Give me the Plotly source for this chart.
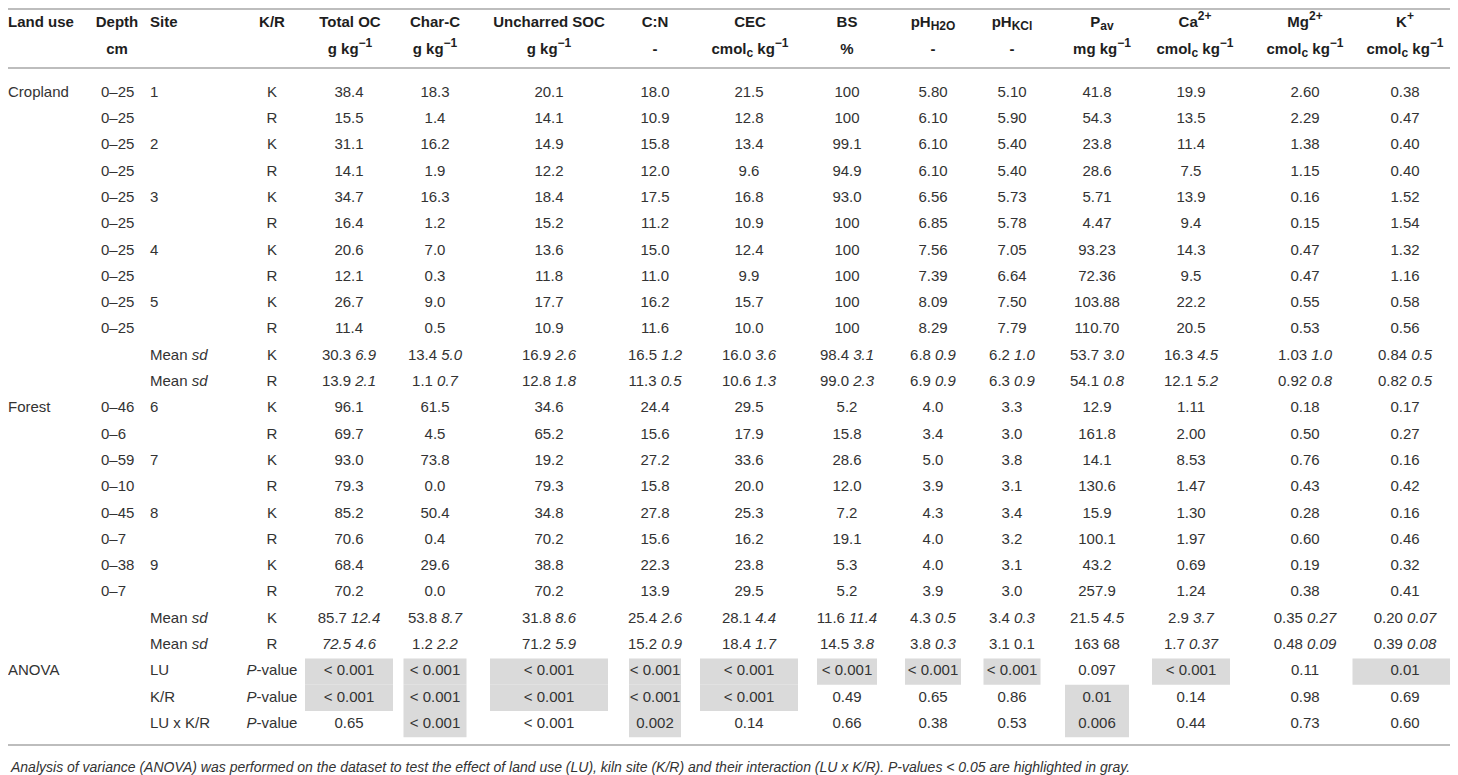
import plotly.graph_objects as go

# ---- row labels ----
land_use = ["Cropland"] + [""] * 11 + ["Forest"] + [""] * 9 + ["ANOVA", "", ""]
depth = (["0–25"] * 10 + ["", ""]
         + ["0–46", "0–6", "0–59", "0–10", "0–45", "0–7", "0–38", "0–7"]
         + ["", ""] + ["", "", ""])
site = ["1", "", "2", "", "3", "", "4", "", "5", "", "Mean <i>sd</i>", "Mean <i>sd</i>",
        "6", "", "7", "", "8", "", "9", "", "Mean <i>sd</i>", "Mean <i>sd</i>",
        "LU", "K/R", "LU x K/R"]
kiln = ["K", "R"] * 11 + ["<i>P</i>-value"] * 3

# ---- header ----
SUB = "<sub><span style='font-size:12px'>{}</span></sub>"
SUP = "<sup><span style='font-size:12px'>{}</span></sup>"
KG = "kg" + SUP.format("−1")
CMOL = "cmol" + SUB.format("c") + " " + KG
headers = ["Land use", "Depth", "Site", "K/R", "Total OC", "Char-C", "Uncharred SOC", "C:N",
           "CEC", "BS", "pH" + SUB.format("H2O"), "pH" + SUB.format("KCl"), "P" + SUB.format("av"),
           "Ca" + SUP.format("2+"), "Mg" + SUP.format("2+"), "K" + SUP.format("+")]
units = ["", "cm", "", "", "g " + KG, "g " + KG, "g " + KG, "-",
         CMOL, "%", "-", "-", "mg " + KG, CMOL, CMOL, CMOL]

# ---- samples: 10 cropland rows then 8 forest rows ----
total_oc = ["38.4", "15.5", "31.1", "14.1", "34.7", "16.4", "20.6", "12.1", "26.7", "11.4",
            "96.1", "69.7", "93.0", "79.3", "85.2", "70.6", "68.4", "70.2"]
char_c = ["18.3", "1.4", "16.2", "1.9", "16.3", "1.2", "7.0", "0.3", "9.0", "0.5",
          "61.5", "4.5", "73.8", "0.0", "50.4", "0.4", "29.6", "0.0"]
uncharred_soc = ["20.1", "14.1", "14.9", "12.2", "18.4", "15.2", "13.6", "11.8", "17.7", "10.9",
                 "34.6", "65.2", "19.2", "79.3", "34.8", "70.2", "38.8", "70.2"]
c_n = ["18.0", "10.9", "15.8", "12.0", "17.5", "11.2", "15.0", "11.0", "16.2", "11.6",
       "24.4", "15.6", "27.2", "15.8", "27.8", "15.6", "22.3", "13.9"]
cec = ["21.5", "12.8", "13.4", "9.6", "16.8", "10.9", "12.4", "9.9", "15.7", "10.0",
       "29.5", "17.9", "33.6", "20.0", "25.3", "16.2", "23.8", "29.5"]
bs = ["100", "100", "99.1", "94.9", "93.0", "100", "100", "100", "100", "100",
      "5.2", "15.8", "28.6", "12.0", "7.2", "19.1", "5.3", "5.2"]
ph_h2o = ["5.80", "6.10", "6.10", "6.10", "6.56", "6.85", "7.56", "7.39", "8.09", "8.29",
          "4.0", "3.4", "5.0", "3.9", "4.3", "4.0", "4.0", "3.9"]
ph_kcl = ["5.10", "5.90", "5.40", "5.40", "5.73", "5.78", "7.05", "6.64", "7.50", "7.79",
          "3.3", "3.0", "3.8", "3.1", "3.4", "3.2", "3.1", "3.0"]
p_av = ["41.8", "54.3", "23.8", "28.6", "5.71", "4.47", "93.23", "72.36", "103.88", "110.70",
        "12.9", "161.8", "14.1", "130.6", "15.9", "100.1", "43.2", "257.9"]
ca = ["19.9", "13.5", "11.4", "7.5", "13.9", "9.4", "14.3", "9.5", "22.2", "20.5",
      "1.11", "2.00", "8.53", "1.47", "1.30", "1.97", "0.69", "1.24"]
mg = ["2.60", "2.29", "1.38", "1.15", "0.16", "0.15", "0.47", "0.47", "0.55", "0.53",
      "0.18", "0.50", "0.76", "0.43", "0.28", "0.60", "0.19", "0.38"]
k_plus = ["0.38", "0.47", "0.40", "0.40", "1.52", "1.54", "1.32", "1.16", "0.58", "0.56",
          "0.17", "0.27", "0.16", "0.42", "0.16", "0.46", "0.32", "0.41"]

# ---- means and sd per land use and kiln/reference ----
crop_k_mean = ["30.3", "13.4", "16.9", "16.5", "16.0", "98.4", "6.8", "6.2", "53.7", "16.3", "1.03", "0.84"]
crop_k_sd = ["6.9", "5.0", "2.6", "1.2", "3.6", "3.1", "0.9", "1.0", "3.0", "4.5", "1.0", "0.5"]
crop_r_mean = ["13.9", "1.1", "12.8", "11.3", "10.6", "99.0", "6.9", "6.3", "54.1", "12.1", "0.92", "0.82"]
crop_r_sd = ["2.1", "0.7", "1.8", "0.5", "1.3", "2.3", "0.9", "0.9", "0.8", "5.2", "0.8", "0.5"]
forest_k_mean = ["85.7", "53.8", "31.8", "25.4", "28.1", "11.6", "4.3", "3.4", "21.5", "2.9", "0.35", "0.20"]
forest_k_sd = ["12.4", "8.7", "8.6", "2.6", "4.4", "11.4", "0.5", "0.3", "4.5", "3.7", "0.27", "0.07"]
forest_r_mean = ["72.5", "1.2", "71.2", "15.2", "18.4", "14.5", "3.8", "3.1", "163", "1.7", "0.48", "0.39"]
forest_r_sd = ["4.6", "2.2", "5.9", "0.9", "1.7", "3.8", "0.3", "0.1", "68", "0.37", "0.09", "0.08"]

# ---- ANOVA p-values and which ones are shaded ----
p_lu = ["< 0.001"] * 8 + ["0.097", "< 0.001", "0.11", "0.01"]
p_kr = ["< 0.001"] * 5 + ["0.49", "0.65", "0.86", "0.01", "0.14", "0.98", "0.69"]
p_int = ["0.65", "< 0.001", "< 0.001", "0.002", "0.14", "0.66", "0.38", "0.53", "0.006", "0.44", "0.73", "0.60"]
shade_lu = [1, 1, 1, 1, 1, 1, 1, 1, 0, 1, 0, 1]
shade_kr = [1, 1, 1, 1, 1, 0, 0, 0, 1, 0, 0, 0]
shade_int = [0, 1, 0, 1, 0, 0, 0, 0, 1, 0, 0, 0]

# page is drawn with the browser's 8px body margin, so the axes are set up in
# window pixels: x from 8 to 1458, y from 8 to 775
PAGE_W, PAGE_H, BODY = 1458, 775, 8
FONT = "Liberation Sans"
TXT = "#333333"
HEAD = "#1e1e1e"
GRAY = "#dadada"
RULE = "#bdbdbd"

col_x = [8, 101, 150, 272, 349, 435, 549, 655, 749, 847, 933, 1012, 1097, 1191, 1305, 1405]
head_x = [8, 117, 150, 272, 350, 435, 549, 655, 750, 847, 933, 1012, 1102, 1195, 1305, 1405]
col_pos = ["middle right"] * 3 + ["middle center"] * 13
head_pos = ["middle right", "middle center", "middle right"] + ["middle center"] * 13
box_w = [88, 63, 118, 52, 98, 60, 56, 57, 64, 78, 92, 105]
ROW0, ROWH = 93, 26.3
HEAD_Y = [23, 50]


def mean_sd(m, s, it_m=False, it_s=True):
    m = "<i>" + m + "</i>" if it_m else m
    s = "<i>" + s + "</i>" if it_s else s
    return m + " " + s


# ---- assemble the body columns ----
sample_cols = [total_oc, char_c, uncharred_soc, c_n, cec, bs, ph_h2o, ph_kcl, p_av, ca, mg, k_plus]
columns = [land_use, depth, site, kiln]
for j, col in enumerate(sample_cols):
    cells = list(col[:10])
    cells.append(mean_sd(crop_k_mean[j], crop_k_sd[j]))
    cells.append(mean_sd(crop_r_mean[j], crop_r_sd[j]))
    cells += list(col[10:])
    cells.append(mean_sd(forest_k_mean[j], forest_k_sd[j]))
    cells.append(mean_sd(forest_r_mean[j], forest_r_sd[j], it_m=(j == 0), it_s=(j not in (7, 8))))
    cells += [p.replace("<", "&lt;") for p in (p_lu[j], p_kr[j], p_int[j])]
    columns.append(cells)

bx, by, bt, bp = [], [], [], []
for c, col in enumerate(columns):
    for r, txt in enumerate(col):
        if txt:
            bx.append(col_x[c])
            by.append(ROW0 + r * ROWH)
            bt.append(txt)
            bp.append(col_pos[c])

hx, hy, ht, hp = [], [], [], []
for c in range(len(headers)):
    for line, txt in enumerate((headers[c], units[c])):
        if txt:
            hx.append(head_x[c])
            hy.append(HEAD_Y[line])
            ht.append("<b>" + txt + "</b>")
            hp.append(head_pos[c])

# shaded p-value cells
sx, sb, sw = [], [], []
for j in range(len(sample_cols)):
    for k, flags in enumerate((shade_lu, shade_kr, shade_int)):
        if flags[j]:
            sx.append(col_x[4 + j])
            sb.append(ROW0 + (22 + k) * ROWH - ROWH / 2)
            sw.append(box_w[j])

fig = go.Figure()

fig.add_trace(go.Bar(
    x=sx, y=[ROWH] * len(sx), base=sb, width=sw,
    marker=dict(color=GRAY, line_width=0), hoverinfo="skip", cliponaxis=False,
))

fig.add_trace(go.Scatter(
    x=bx, y=by, text=bt, mode="text", textposition=bp, cliponaxis=False,
    textfont=dict(family=FONT, size=15, color=TXT), hoverinfo="skip",
))

fig.add_trace(go.Scatter(
    x=hx, y=hy, text=ht, mode="text", textposition=hp, cliponaxis=False,
    textfont=dict(family=FONT, size=15, color=HEAD), hoverinfo="skip",
))

for yp in (9, 68, 745):
    fig.add_shape(type="line", xref="paper", yref="y", x0=0, x1=1, y0=yp, y1=yp,
                  line=dict(color=RULE, width=2))

fig.add_annotation(
    xref="x", yref="y", x=8, y=767, xanchor="left", yanchor="middle",
    showarrow=False,
    text="<i>Analysis of variance (ANOVA) was performed on the dataset to test the effect of "
         "land use (LU), kiln site (K/R) and their interaction (LU x K/R). P-values &lt; 0.05 "
         "are highlighted in gray.</i>",
    font=dict(family=FONT, size=14, color=TXT),
)

fig.update_layout(
    width=PAGE_W - BODY, height=PAGE_H - BODY, margin=dict(l=0, r=0, t=0, b=0),
    paper_bgcolor="white", plot_bgcolor="white", showlegend=False, barmode="overlay",
    xaxis=dict(range=[BODY, PAGE_W], visible=False, fixedrange=True),
    yaxis=dict(range=[PAGE_H, BODY], visible=False, fixedrange=True),
)

fig.write_html("out.html")
